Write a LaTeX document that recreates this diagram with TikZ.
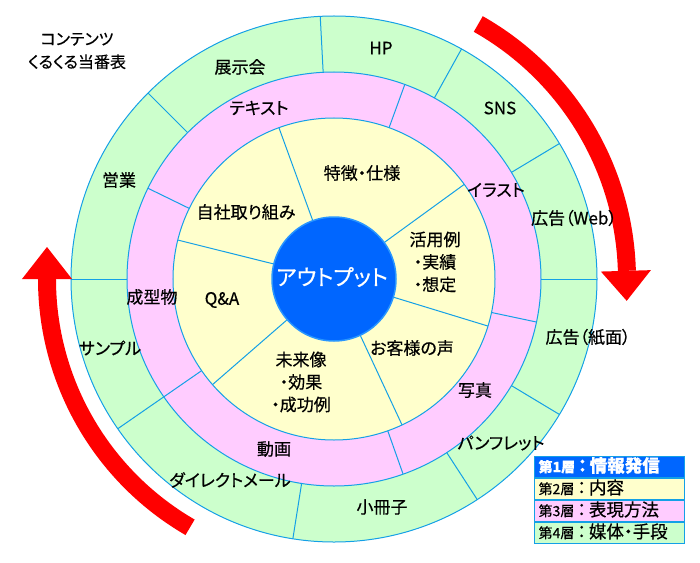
\documentclass[tikz,border=0pt]{standalone}
\usepackage{fontspec}
\setmainfont[RawFeature=+palt, FakeBold=0.5]{Noto Sans CJK JP}
\usetikzlibrary{calc}
\definecolor{lineblue}{RGB}{20,160,230}
\definecolor{ringgreen}{RGB}{204,255,204}
\definecolor{ringpink}{RGB}{255,204,255}
\definecolor{ringyellow}{RGB}{255,255,204}
\definecolor{coreblue}{RGB}{0,102,255}
\definecolor{arrowred}{RGB}{255,0,0}
\begin{document}
\begin{tikzpicture}[x=1pt,y=1pt,
  lbl/.style={font=\fontsize{17}{22.5}\selectfont, inner sep=0pt, align=center},
  ttl/.style={font=\fontsize{16}{23}\selectfont, inner sep=0pt, align=center},
  ring/.style={draw=lineblue, line width=1pt},
  divider/.style={draw=lineblue, line width=1pt},
  band/.style={draw=arrowred, line width=18pt},
  head/.style={fill=arrowred},
  legrow/.style={draw=lineblue, line width=1.2pt, minimum height=21pt, text width=142pt, text height=13pt, text depth=3pt, inner xsep=4pt, inner ysep=0pt, anchor=north west, align=left}]
\useasboundingbox (-334,-283) rectangle (366,279);
% rings
\fill[ringgreen] (0,0) circle[radius=263];
\fill[ringpink] (0,0) circle[radius=207];
\fill[ringyellow] (0,0) circle[radius=161];
\draw[ring] (0,0) circle[radius=263];
\draw[ring] (0,0) circle[radius=207];
\draw[ring] (0,0) circle[radius=161];
% dividers green ring
\foreach \a in {93,61,31,0,329,303,261,214.7,180,135}
  \draw[divider] (\a:207) -- (\a:263);
% dividers pink ring
\foreach \a in {70,154,214.7,289.5,348}
  \draw[divider] (\a:161) -- (\a:207);
% dividers yellow ring
\foreach \a in {36,110,166,221,295,343}
  \draw[divider] (\a:62) -- (\a:161);
% core
\node[circle, fill=coreblue, draw={rgb,255:red,40;green,150;blue,255}, line width=1.5pt, minimum size=124pt, inner sep=0pt] (core) at (0,0) {};
\node[font=\fontsize{22}{26}\selectfont, text=white, inner sep=0pt] (out) at (-2,2) {アウトプット};
% arrows
\draw[band] (60.5:293) arc[start angle=60.5, end angle=1.6, radius=293];
\fill[head] (1.6:267) -- (1.6:317) -- ($(1.6:292)+(-88.4:30)$) -- cycle;
\draw[band] (239.9:287) arc[start angle=239.9, end angle=180, radius=287];
\fill[head] (180:262) -- (180:312) -- ($(180:287)+(90:32)$) -- cycle;
% title
\node[ttl] (title) at (-257,228) {コンテンツ\\くるくる当番表};
% green ring labels
\node[lbl] (g1) at (-94,212) {展示会};
\node[lbl] (g2) at (47,231) {HP};
\node[lbl] (g3) at (166,171) {SNS};
\node[lbl] (g4) at (240,61) {広告（Web）};
\node[lbl] (g5) at (254,-58) {広告（紙面）};
\node[lbl] (g6) at (167,-164) {パンフレット};
\node[lbl] (g7) at (48,-228) {小冊子};
\node[lbl] (g8) at (-104,-201) {ダイレクトメール};
\node[lbl] (g9) at (-224,-69) {サンプル};
\node[lbl] (g10) at (-215,99) {営業};
% pink ring labels
\node[lbl] (p1) at (-75,171) {テキスト};
\node[lbl] (p2) at (162,89) {イラスト};
\node[lbl] (p3) at (141,-111) {写真};
\node[lbl] (p4) at (-60,-170) {動画};
\node[lbl] (p5) at (-182,-18) {成型物};
% yellow ring labels
\node[lbl] (y1) at (28,106) {特徴・仕様};
\node[lbl] (y2) at (-88,67) {自社取り組み};
\node[lbl] (y3) at (-112,-21) {Q\&A};
\node[lbl] (y4) at (-33,-103) {未来像\\・効果\\・成功例};
\node[lbl] (y5) at (101,17) {活用例\\・実績\\・想定};
\node[lbl] (y6) at (78,-69) {お客様の声};
% legend
\node[legrow, fill=coreblue, text=white] (l1) at (200,-177) {\bfseries\fontsize{14}{16}\selectfont 第1層\fontsize{17.5}{18}\selectfont\,：\,情報発信};
\node[legrow, fill=ringyellow] (l2) at (200,-199) {\fontsize{14}{16}\selectfont 第2層\fontsize{17.5}{18}\selectfont\,：\,内容};
\node[legrow, fill=ringpink] (l3) at (200,-221) {\fontsize{14}{16}\selectfont 第3層\fontsize{17.5}{18}\selectfont\,：\,表現方法};
\node[legrow, fill=ringgreen] (l4) at (200,-243) {\fontsize{14}{16}\selectfont 第4層\fontsize{17.5}{18}\selectfont\,：\,媒体・手段};
\end{tikzpicture}
\end{document}
